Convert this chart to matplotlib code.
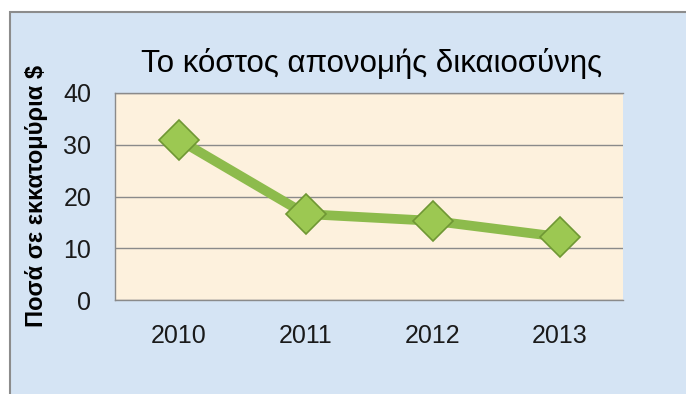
import matplotlib.pyplot as plt
from matplotlib.patches import Rectangle

years = ['2010', '2011', '2012', '2013']
cost = [31.0, 16.6, 15.3, 12.2]
yticks = [0, 10, 20, 30, 40]

title = 'Το κόστος απονομής δικαιοσύνης'
ylabel = 'Ποσά σε εκκατομύρια $'

plt.rcParams['font.family'] = ['Liberation Sans', 'DejaVu Sans']

W, H = 686, 394
fig = plt.figure(figsize=(W / 100, H / 100), dpi=100)
fig.patch.set_facecolor('white')

# outer chart frame (light blue); right and bottom edges run off the picture
fig.patches.append(Rectangle((10 / W, -0.1), 1.2, 1.1 - 12 / H,
                             transform=fig.transFigure, facecolor='#d5e4f4',
                             edgecolor='#8c8c8c', linewidth=1.5, zorder=-1))

ax = fig.add_axes([115 / W, 1 - 300 / H, 508 / W, 207 / H])
ax.set_facecolor('#fdf1dd')

x = range(len(years))
ax.plot(x, cost, color='#8dbb4c', linewidth=7, solid_capstyle='butt',
        marker='D', markersize=20, markerfacecolor='#9cc852',
        markeredgecolor='#6f9734', markeredgewidth=1.2, zorder=3)

ax.set_xlim(-0.5, len(years) - 0.5)
ax.set_ylim(0, 40)
ax.set_xticks(list(x))
ax.set_xticklabels(years)
ax.set_yticks(yticks)
ax.tick_params(axis='both', length=0, labelsize=18, colors='#1a1a1a')
ax.tick_params(axis='y', pad=17)
ax.tick_params(axis='x', pad=17)
ax.grid(axis='y', color='#8a8a8a', linewidth=1)
ax.set_axisbelow(True)
for side in ['left', 'top', 'bottom']:
    ax.spines[side].set_color('#8a8a8a')
    ax.spines[side].set_linewidth(1)
ax.spines['right'].set_visible(False)

fig.text(372 / W, 1 - 72 / H, title, ha='center', va='baseline',
         fontsize=22.5, color='black')
fig.text(37 / W, 1 - 196 / H, ylabel, ha='center', va='center',
         rotation=90, fontsize=17, fontweight='bold', color='black')

fig.savefig('out.png', dpi=100)
